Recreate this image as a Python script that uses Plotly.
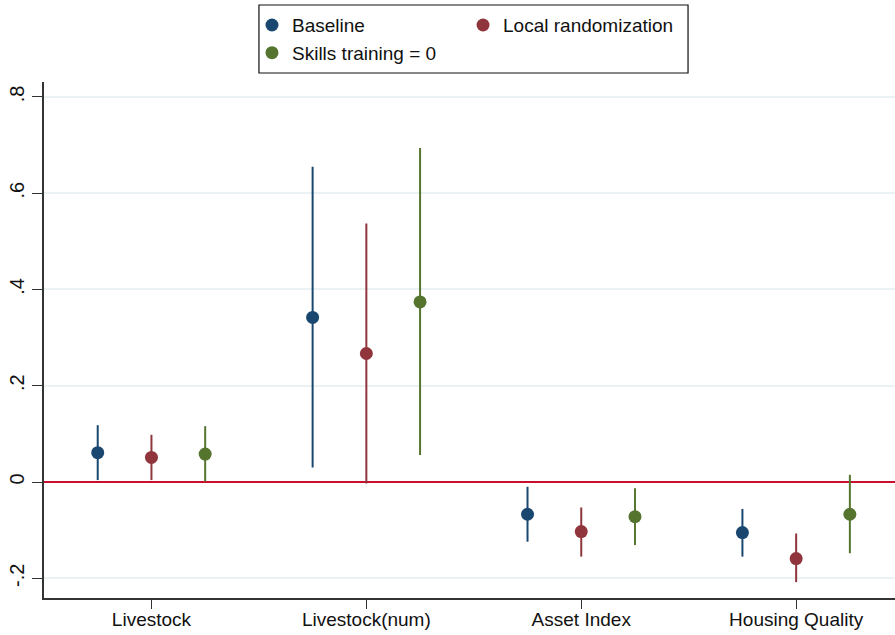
import plotly.graph_objects as go

# Outcomes and coefficient estimates with 95% confidence bounds
categories = ["Livestock", "Livestock(num)", "Asset Index", "Housing Quality"]

baseline_est = [0.061, 0.342, -0.067, -0.105]
baseline_lo = [0.004, 0.030, -0.124, -0.155]
baseline_hi = [0.118, 0.655, -0.010, -0.056]

local_est = [0.051, 0.267, -0.103, -0.159]
local_lo = [0.004, -0.003, -0.155, -0.208]
local_hi = [0.098, 0.537, -0.053, -0.107]

skills_est = [0.058, 0.374, -0.072, -0.067]
skills_lo = [0.001, 0.056, -0.131, -0.148]
skills_hi = [0.116, 0.694, -0.013, 0.015]

y_ticks = [-0.2, 0, 0.2, 0.4, 0.6, 0.8]
y_tick_text = ["-.2", "0", ".2", ".4", ".6", ".8"]

series = [
    ("Baseline", baseline_est, baseline_lo, baseline_hi, "#1a476f", -0.25, "legend", "g1"),
    ("Local randomization", local_est, local_lo, local_hi, "#90353b", 0.0, "legend2", "g2"),
    ("Skills training = 0", skills_est, skills_lo, skills_hi, "#55752f", 0.25, "legend", "g3"),
]

FONT = "Liberation Sans, Arial, sans-serif"

fig = go.Figure()
for name, est, lo, hi, color, offset, leg, grp in series:
    xs = [i + offset for i in range(len(categories))]
    fig.add_trace(go.Scatter(
        x=xs, y=est, mode="markers", name=name,
        legend=leg, legendgroup=grp,
        marker=dict(color=color, size=13),
        error_y=dict(
            type="data", symmetric=False,
            array=[h - e for h, e in zip(hi, est)],
            arrayminus=[e - l for e, l in zip(est, lo)],
            color=color, thickness=2, width=0,
        ),
    ))

fig.update_layout(
    width=895, height=635,
    margin=dict(l=44, r=0, t=82, b=37),
    paper_bgcolor="white", plot_bgcolor="white",
    font=dict(family=FONT, size=19, color="#111"),
    legend=dict(
        x=0.2444, y=1.147, xanchor="left", yanchor="top",
        orientation="v", traceorder="grouped", tracegroupgap=0,
        font=dict(family=FONT, size=19, color="#111"),
        bgcolor="rgba(0,0,0,0)", borderwidth=0,
    ),
    legend2=dict(
        x=0.4924, y=1.147, xanchor="left", yanchor="top",
        orientation="v",
        font=dict(family=FONT, size=19, color="#111"),
        bgcolor="rgba(0,0,0,0)", borderwidth=0,
    ),
    shapes=[dict(
        type="rect", xref="paper", yref="paper",
        x0=0.2526, x1=0.7568, y0=1.0174, y1=1.1492,
        line=dict(color="#111", width=1.2), fillcolor="rgba(0,0,0,0)",
    )],
)

fig.update_xaxes(
    range=[-0.5, 3.46],
    tickvals=list(range(len(categories))), ticktext=categories,
    showgrid=False, zeroline=False,
    showline=True, linecolor="#333", linewidth=1.5,
    ticks="outside", ticklen=9, tickwidth=1.2, tickcolor="#333",
    ticklabelstandoff=-6,
)
fig.update_yaxes(
    range=[-0.241, 0.831],
    tickvals=y_ticks, ticktext=y_tick_text, tickangle=-90,
    tickfont=dict(size=20),
    showgrid=True, gridcolor="#eaf2f3", gridwidth=1.5,
    zeroline=True, zerolinecolor="#c8102e", zerolinewidth=2,
    showline=True, linecolor="#333", linewidth=1.5,
    ticks="outside", ticklen=10, tickwidth=1.2, tickcolor="#333",
)

fig.write_html("out.html")
